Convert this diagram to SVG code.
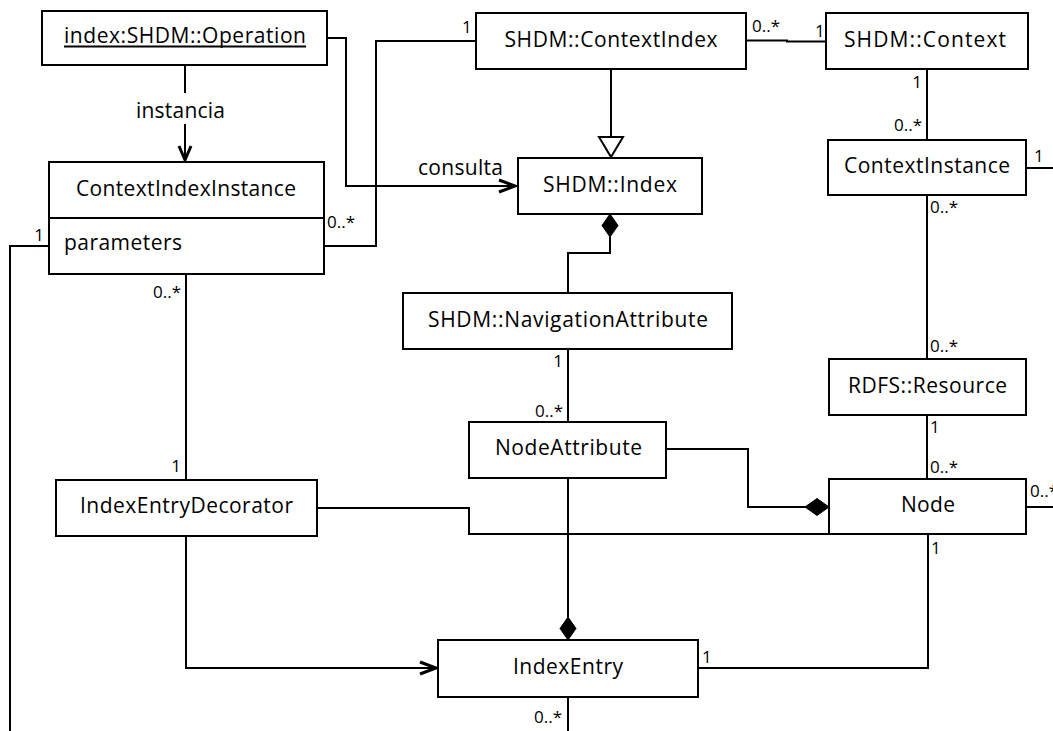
<svg xmlns="http://www.w3.org/2000/svg" width="1053" height="731" viewBox="0 0 1053 731">
  <style>
    .box { fill: #ffffff; stroke: #000000; stroke-width: 2; }
    .edge { fill: none; stroke: #000000; stroke-width: 2; }
    .head { fill: none; stroke: #000000; stroke-width: 3; stroke-linejoin: miter; }
    .diamond { fill: #000000; stroke: #000000; stroke-width: 1; }
    .tri { fill: #ffffff; stroke: #000000; stroke-width: 2; }
    .name { font-family: "Open Sans", "Liberation Sans", sans-serif; font-size: 21px; fill: #000000; text-anchor: middle; }
    .attr { font-family: "Open Sans", "Liberation Sans", sans-serif; font-size: 21px; fill: #000000; }
    .lbl { font-family: "Open Sans", "Liberation Sans", sans-serif; font-size: 21px; fill: #000000; }
    .mult { font-family: "Open Sans", "Liberation Sans", sans-serif; font-size: 17px; fill: #000000; }
  </style>

  <rect width="1053" height="731" fill="#ffffff"/>

  <!-- associations, generalization, compositions -->
  <g id="connectors">
    <!-- instancia -->
    <path class="edge" d="M185,65 V93 M185,124 V161"/>
    <path class="head" d="M179,146 L185,160 L191,146"/>
    <text class="lbl" x="180.5" y="118" text-anchor="middle" textLength="89" lengthAdjust="spacing">instancia</text>

    <!-- consulta -->
    <path class="edge" d="M327,38 H346 V186 H516"/>
    <path class="head" d="M499,180 L515,186 L499,192"/>
    <text class="lbl" x="418" y="175" textLength="85" lengthAdjust="spacing">consulta</text>

    <!-- ContextIndexInstance - ContextIndex -->
    <path class="edge" d="M324,246 H376 V41 H476"/>
    <text class="mult" x="327" y="228">0..*</text>
    <text class="mult" x="462" y="33">1</text>

    <!-- ContextIndex generalizes to Index -->
    <path class="edge" d="M611,69 V137"/>
    <path class="tri" d="M599,137 H623 L611,157 Z"/>

    <!-- Index composition of NavigationAttribute -->
    <path class="edge" d="M610,237 V253 H568 V293"/>
    <path class="diamond" d="M610,214 L618,225.5 L610,237 L602,225.5 Z"/>

    <!-- ContextIndex - Context -->
    <path class="edge" d="M746,40.5 H787 V41.5 H826"/>
    <text class="mult" x="752" y="32">0..*</text>
    <text class="mult" x="815" y="37">1</text>

    <!-- Context - ContextInstance -->
    <path class="edge" d="M927,69 V140"/>
    <text class="mult" x="922" y="88" text-anchor="end">1</text>
    <text class="mult" x="922" y="131" text-anchor="end">0..*</text>

    <!-- ContextInstance, right side -->
    <path class="edge" d="M1026,168 H1053"/>
    <text class="mult" x="1034" y="162">1</text>

    <!-- ContextInstance - RDFS::Resource -->
    <path class="edge" d="M927,195 V359"/>
    <text class="mult" x="930" y="213">0..*</text>
    <text class="mult" x="930" y="352">0..*</text>

    <!-- RDFS::Resource - Node -->
    <path class="edge" d="M927,415 V479"/>
    <text class="mult" x="930" y="433">1</text>
    <text class="mult" x="930" y="473">0..*</text>

    <!-- Node, right side -->
    <path class="edge" d="M1026,507 H1053"/>
    <text class="mult" x="1030" y="497">0..*</text>

    <!-- Node - IndexEntry -->
    <path class="edge" d="M928,534 V668 H698"/>
    <text class="mult" x="931" y="554">1</text>
    <text class="mult" x="702" y="663">1</text>

    <!-- NavigationAttribute - NodeAttribute -->
    <path class="edge" d="M568,349 V422"/>
    <text class="mult" x="563" y="367" text-anchor="end">1</text>
    <text class="mult" x="563" y="417" text-anchor="end">0..*</text>

    <!-- Node composition of NodeAttribute -->
    <path class="edge" d="M666,449 H748 V507 H805"/>
    <path class="diamond" d="M805,507 L817,498.5 L829,507 L817,515.5 Z"/>

    <!-- IndexEntry composition of NodeAttribute -->
    <path class="edge" d="M568,478 V617"/>
    <path class="diamond" d="M568,617 L576,628.5 L568,640 L560,628.5 Z"/>

    <!-- IndexEntry, bottom -->
    <path class="edge" d="M568,697 V731"/>
    <text class="mult" x="562" y="723" text-anchor="end">0..*</text>

    <!-- IndexEntryDecorator - Node -->
    <path class="edge" d="M317,508 H469 V534 H829"/>

    <!-- IndexEntryDecorator to IndexEntry -->
    <path class="edge" d="M186,536 V668 H436"/>
    <path class="head" d="M420,662 L436,668 L420,674"/>

    <!-- ContextIndexInstance - IndexEntryDecorator -->
    <path class="edge" d="M186,274 V480"/>
    <text class="mult" x="181" y="298" text-anchor="end">0..*</text>
    <text class="mult" x="181" y="472" text-anchor="end">1</text>

    <!-- ContextIndexInstance, left side -->
    <path class="edge" d="M49,246 H10 V731"/>
    <text class="mult" x="44" y="241" text-anchor="end">1</text>
  </g>

  <g id="operation">
    <rect class="box" x="42" y="11" width="285" height="54"/>
    <text class="name" x="185" y="43" textLength="242" lengthAdjust="spacing">index:SHDM::Operation</text>
    <line x1="64" y1="46.5" x2="306" y2="46.5" stroke="#000000" stroke-width="1.8"/>
  </g>

  <g id="context-index">
    <rect class="box" x="476" y="13" width="270" height="56"/>
    <text class="name" x="611" y="47" textLength="213" lengthAdjust="spacing">SHDM::ContextIndex</text>
  </g>

  <g id="context">
    <rect class="box" x="826" y="13" width="202" height="56"/>
    <text class="name" x="925" y="47" textLength="162" lengthAdjust="spacing">SHDM::Context</text>
  </g>

  <g id="context-index-instance">
    <rect class="box" x="49" y="162" width="275" height="112"/>
    <line x1="49" y1="218" x2="324" y2="218" stroke="#000000" stroke-width="2"/>
    <text class="name" x="186" y="196" textLength="220" lengthAdjust="spacing">ContextIndexInstance</text>
    <text class="attr" x="64" y="250" textLength="118" lengthAdjust="spacing">parameters</text>
  </g>

  <g id="index">
    <rect class="box" x="518" y="158" width="184" height="56"/>
    <text class="name" x="610" y="192" textLength="134" lengthAdjust="spacing">SHDM::Index</text>
  </g>

  <g id="context-instance">
    <rect class="box" x="828" y="140" width="198" height="55"/>
    <text class="name" x="927" y="173" textLength="166" lengthAdjust="spacing">ContextInstance</text>
  </g>

  <g id="navigation-attribute">
    <rect class="box" x="403" y="293" width="329" height="56"/>
    <text class="name" x="568" y="327" textLength="280" lengthAdjust="spacing">SHDM::NavigationAttribute</text>
  </g>

  <g id="rdfs-resource">
    <rect class="box" x="829" y="359" width="197" height="56"/>
    <text class="name" x="927.5" y="393" textLength="159" lengthAdjust="spacing">RDFS::Resource</text>
  </g>

  <g id="node-attribute">
    <rect class="box" x="469" y="422" width="197" height="56"/>
    <text class="name" x="568.5" y="455" textLength="147" lengthAdjust="spacing">NodeAttribute</text>
  </g>

  <g id="index-entry-decorator">
    <rect class="box" x="56" y="480" width="261" height="56"/>
    <text class="name" x="186.5" y="513" textLength="213" lengthAdjust="spacing">IndexEntryDecorator</text>
  </g>

  <g id="node">
    <rect class="box" x="829" y="479" width="197" height="55"/>
    <text class="name" x="928" y="512" textLength="54" lengthAdjust="spacing">Node</text>
  </g>

  <g id="index-entry">
    <rect class="box" x="438" y="640" width="260" height="57"/>
    <text class="name" x="568" y="674" textLength="110" lengthAdjust="spacing">IndexEntry</text>
  </g>
</svg>
